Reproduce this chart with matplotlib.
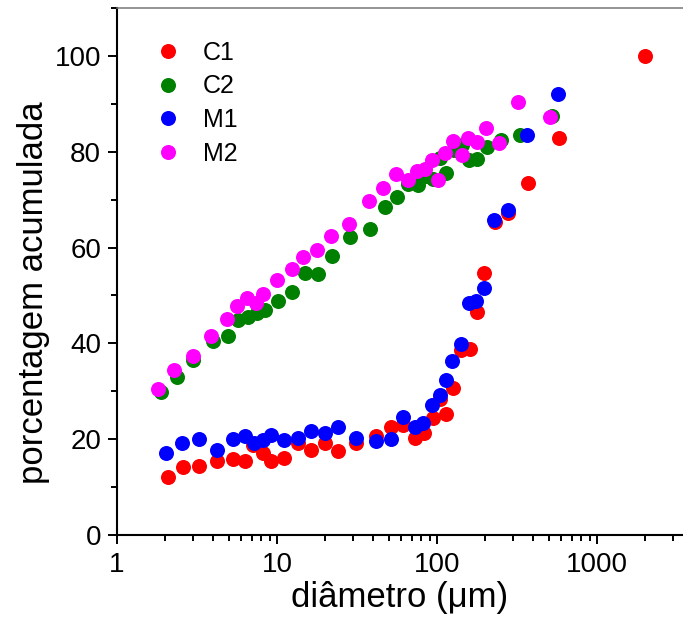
import matplotlib
matplotlib.use('Agg')
import matplotlib.pyplot as plt
from matplotlib.ticker import LogLocator, MultipleLocator, NullFormatter, FixedLocator

plt.rcParams['font.family'] = ['Liberation Sans', 'DejaVu Sans']

# C1
c1_x = [2.07, 2.57, 3.25, 4.24, 5.33, 6.31, 7.11, 8.21, 9.13, 11.1, 13.6, 16.2, 19.95,
        24.2, 31.2, 41.6, 51.3, 61.6, 72.9, 82.9, 94, 104.4, 113.8, 125.3, 141, 160.8,
        177, 197.6, 230, 279, 369, 581, 1995]
c1_y = [12.2, 14.1, 14.5, 15.4, 15.8, 15.5, 18.8, 17.2, 15.4, 16.1, 19.2, 17.8, 19.2,
        17.6, 19.2, 20.7, 22.6, 23.0, 20.2, 21.2, 24.5, 28.4, 25.3, 30.7, 38.6, 38.9,
        46.6, 54.7, 65.4, 67.2, 73.4, 82.9, 100.0]

# C2
c2_x = [1.88, 2.36, 2.97, 3.96, 4.97, 5.73, 6.62, 7.46, 8.41, 10.2, 12.4, 15.0, 18.1,
        22.0, 28.6, 38.1, 47.3, 56.0, 66.2, 75.7, 85.3, 94.8, 104, 114, 128, 143, 158,
        179, 204, 253, 330, 520]
c2_y = [29.8, 33.0, 36.6, 40.4, 41.5, 44.8, 45.6, 46.4, 47.0, 48.9, 50.8, 54.7, 54.4,
        58.2, 62.1, 63.9, 68.5, 70.6, 73.3, 73.1, 74.9, 74.3, 78.6, 75.6, 80.4, 81.3,
        78.3, 78.5, 80.9, 82.4, 83.5, 87.5]

# M1
m1_x = [2.01, 2.54, 3.25, 4.24, 5.33, 6.31, 7.18, 8.21, 9.13, 11.1, 13.6, 16.2, 19.95,
        23.9, 31.2, 41.6, 51.3, 61.1, 72.9, 82.0, 93.4, 104.4, 113.3, 124.6, 141, 158.5,
        175.4, 195.8, 227, 276.6, 367, 573]
m1_y = [17.1, 19.2, 20.0, 17.7, 20.0, 20.6, 19.2, 19.8, 20.9, 19.9, 20.2, 21.8, 21.3,
        22.6, 20.2, 19.6, 20.0, 24.6, 22.6, 23.4, 27.2, 29.3, 32.3, 36.4, 39.8, 48.5,
        48.9, 51.5, 65.8, 67.9, 83.4, 92.0]

# M2
m2_x = [1.81, 2.28, 2.97, 3.87, 4.85, 5.65, 6.52, 7.39, 8.21, 10.0, 12.4, 14.6, 17.7,
        21.7, 28.0, 37.4, 46.2, 55.4, 65.6, 74.7, 84.1, 93.6, 101, 112, 126.5, 142.6,
        157, 177, 203, 245, 322, 508]
m2_y = [30.5, 34.4, 37.3, 41.5, 45.0, 47.7, 49.4, 48.5, 50.3, 53.2, 55.6, 58.1, 59.5,
        62.5, 64.9, 69.7, 72.5, 75.4, 74.0, 75.9, 76.4, 78.2, 74.1, 79.7, 82.2, 79.4,
        82.9, 82.0, 85.0, 81.8, 90.4, 87.3]

series = [('C1', c1_x, c1_y, '#ff0000'),
          ('C2', c2_x, c2_y, '#008000'),
          ('M1', m1_x, m1_y, '#0000ff'),
          ('M2', m2_x, m2_y, '#ff00ff')]

fig = plt.figure(figsize=(6.83, 6.21), dpi=100)
ax = fig.add_axes([117/683, 86/621, 566/683, 527/621])

for name, xs, ys, col in series:
    ax.plot(xs, ys, 'o', color=col, markersize=10.8, markeredgewidth=0, label=name)

ax.set_xscale('log')
ax.set_xlim(1, 3450)
ax.set_ylim(0, 110)

ax.xaxis.set_major_locator(FixedLocator([1, 10, 100, 1000]))
ax.set_xticklabels(['1', '10', '100', '1000'])
ax.xaxis.set_minor_locator(LogLocator(base=10, subs=range(2, 10)))
ax.xaxis.set_minor_formatter(NullFormatter())
ax.yaxis.set_major_locator(MultipleLocator(20))
ax.yaxis.set_minor_locator(MultipleLocator(10))

ax.tick_params(which='major', direction='out', length=6.5, width=1.4, labelsize=20)
ax.tick_params(axis='x', which='major', pad=6)
ax.tick_params(axis='y', which='major', pad=5)
ax.tick_params(which='minor', direction='out', length=4, width=1.4)

ax.spines['right'].set_visible(False)
ax.spines['top'].set_color('#777777')
ax.spines['top'].set_linewidth(1.1)
ax.spines['left'].set_linewidth(1.5)
ax.spines['bottom'].set_linewidth(1.5)

ax.set_xlabel('diâmetro (μm)', fontsize=25, labelpad=2)
ax.set_ylabel('porcentagem acumulada', fontsize=25)
ax.yaxis.set_label_coords(-0.118, 0.459)

ax.legend(loc='upper left', bbox_to_anchor=(0.068, 0.938), frameon=False, fontsize=18,
          handlelength=1.0, handletextpad=0.9, labelspacing=0.39, numpoints=1,
          borderpad=0, borderaxespad=0)

fig.savefig('out.png', dpi=100)
